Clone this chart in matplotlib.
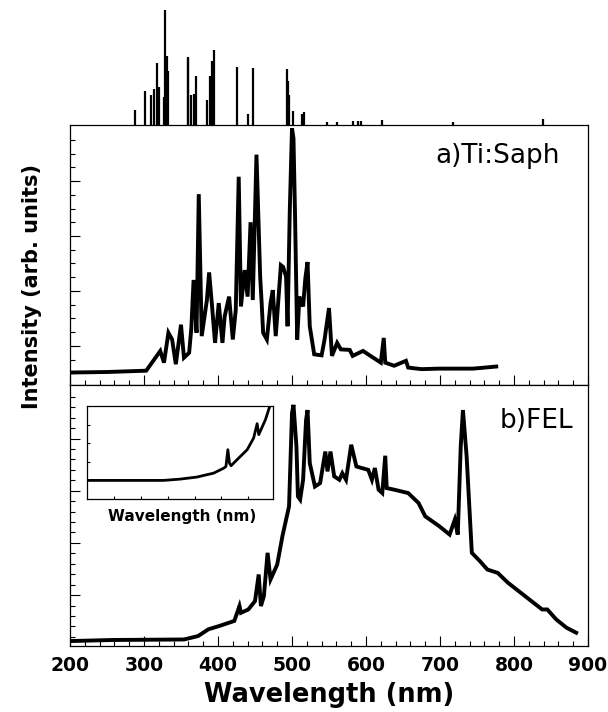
import numpy as np
import matplotlib.pyplot as plt
from matplotlib.ticker import FixedLocator, MultipleLocator, NullFormatter

plt.rcParams["font.family"] = "DejaVu Sans"

# line spectrum drawn above panel a (relative heights, tallest = 100)
line_nm = [288, 302, 310, 313, 317, 320, 327, 329, 331, 333,
           359, 360, 363, 368, 370, 385, 389, 392, 394, 426,
           440, 447, 493, 495, 496, 501, 513, 516, 547, 561,
           583, 589, 593, 621, 717, 839]
line_int = [13.3, 29.9, 26.0, 31.1, 54.1, 33.4, 24.6, 100, 60.1, 47.3,
            59.5, 58.6, 26.0, 26.9, 42.9, 21.6, 42.9, 55.6, 65.1, 50.3,
            9.8, 49.7, 48.8, 37.9, 26.0, 11.8, 9.8, 11.2, 3.0, 3.0,
            3.6, 3.6, 3.6, 4.4, 2.4, 5.3]

# a) Ti:Saph spectrum
tisaph_nm = [201, 250, 303, 306, 322, 327, 333, 338, 343, 350, 354, 361,
             364, 367, 371, 374, 378, 385, 388, 392, 396, 401, 406, 409,
             415, 420, 424, 428, 431, 436, 440, 444, 447, 452, 457, 459,
             461, 466, 471, 474, 478, 485, 488, 492, 494, 497, 500, 502,
             504, 507, 510, 515, 518, 521, 524, 530, 540, 544, 550, 554,
             561, 566, 578, 582, 596, 606, 620, 624, 626, 638, 654, 657,
             675, 699, 745, 776]
tisaph_int = [4.8, 5.0, 5.5, 6.7, 13.1, 8.6, 20.1, 17.5, 8.0, 23.2, 10.5, 12.4,
              22.0, 40.4, 20.1, 73.4, 18.8, 32.7, 43.3, 30.2, 16.2, 31.5, 16.2, 26.4,
              34.0, 17.5, 28.9, 80.1, 30.2, 44.2, 34.0, 62.6, 32.7, 88.6, 41.6, 31.5,
              20.1, 17.5, 31.5, 36.5, 18.8, 46.1, 45.4, 41.6, 22.6, 67.0, 98.7, 94.9,
              67.0, 17.5, 34.0, 30.2, 41.0, 47.3, 22.6, 11.8, 11.4, 17.5, 29.6, 11.2,
              16.2, 13.7, 13.5, 11.2, 13.1, 11.2, 8.6, 18.1, 8.6, 7.4, 9.3, 6.7,
              6.1, 6.3, 6.3, 7.1]

# b) FEL spectrum
fel_nm = [201, 257, 354, 373, 387, 401, 422, 429, 431, 441, 450, 455,
          458, 462, 467, 471, 480, 487, 492, 496, 500, 502, 506, 508,
          511, 515, 519, 521, 524, 531, 538, 545, 548, 552, 557, 564,
          568, 573, 580, 587, 594, 603, 608, 612, 617, 622, 626, 628,
          638, 657, 671, 680, 699, 713, 720, 724, 728, 731, 736, 743,
          754, 764, 778, 792, 815, 838, 845, 857, 871, 884]
fel_int = [1.9, 2.3, 2.5, 3.8, 6.4, 7.6, 9.6, 15.3, 12.7, 14.0, 17.2, 27.4,
           15.3, 19.1, 35.7, 25.5, 31.2, 42.0, 48.4, 53.5, 89.2, 92.4, 76.4, 57.3,
           56.1, 63.7, 86.6, 90.4, 70.1, 61.1, 62.4, 74.5, 66.9, 74.5, 65.0, 63.7,
           66.2, 63.7, 77.1, 68.8, 68.2, 67.5, 63.7, 68.2, 59.9, 58.6, 72.9, 60.5,
           59.9, 58.6, 54.8, 49.7, 45.9, 42.7, 48.4, 42.7, 76.4, 90.4, 72.6, 35.7,
           32.5, 29.3, 28.0, 24.2, 19.1, 14.0, 14.0, 10.2, 7.0, 5.1]

# inset (unlabelled axis units)
inset_x = [0.0, 2.85, 3.47, 4.09, 4.71, 5.09, 5.17, 5.24, 5.30, 5.36,
           5.58, 5.96, 6.20, 6.33, 6.39, 6.64, 6.82]
inset_y = [0.0, 0.0, 0.07, 0.18, 0.39, 0.66, 0.75, 1.65, 0.93, 0.79,
           1.11, 1.65, 2.28, 3.05, 2.46, 3.27, 4.08]

x_ticks = [200, 300, 400, 500, 600, 700, 800, 900]

W, H = 608, 712
fig = plt.figure(figsize=(W / 100, H / 100), dpi=100, facecolor="white")


def px_axes(x0, y0, x1, y1, **kw):
    # axes from pixel box (left, top, right, bottom)
    return fig.add_axes([x0 / W, 1 - y1 / H, (x1 - x0) / W, (y1 - y0) / H], **kw)


ax_a = px_axes(70, 125, 588, 385)
ax_b = px_axes(70, 385, 588, 646, sharex=ax_a)
ax_l = px_axes(70, 10, 588, 125, sharex=ax_a)

# top line spectrum
ax_l.vlines(line_nm, 0, line_int, color="black", lw=1.6)
ax_l.set_ylim(0, 100)
ax_l.axis("off")

lw_spec = 2.8
ax_a.plot(tisaph_nm, tisaph_int, color="black", lw=lw_spec, solid_joinstyle="miter")
ax_b.plot(fel_nm, fel_int, color="black", lw=lw_spec, solid_joinstyle="miter")

ax_a.set_xlim(200, 900)
ax_a.set_ylim(0, 100)
ax_b.set_ylim(0, 100)

for ax in (ax_a, ax_b):
    for sp in ax.spines.values():
        sp.set_linewidth(0.9)
        sp.set_color("black")
    ax.xaxis.set_major_locator(FixedLocator(x_ticks))
    ax.xaxis.set_minor_locator(MultipleLocator(20))
    ax.tick_params(which="both", direction="in", top=False, right=False,
                   width=0.8, color="black")
    ax.tick_params(which="major", length=7)
    ax.tick_params(which="minor", length=3.5)
    ax.yaxis.set_major_formatter(NullFormatter())

ax_a.yaxis.set_major_locator(FixedLocator(np.arange(15.1, 99, 21.1)))
ax_a.yaxis.set_minor_locator(FixedLocator(np.arange(4.5, 99, 5.28)))
ax_b.yaxis.set_major_locator(FixedLocator(np.arange(19.5, 99, 20)))
ax_b.yaxis.set_minor_locator(FixedLocator(np.arange(3.5, 99, 4)))

ax_a.tick_params(axis="x", labelbottom=False)
ax_b.tick_params(axis="x", pad=7, labelsize=13.5)
for lab in ax_b.get_xticklabels():
    lab.set_fontweight("bold")

ax_a.text(0.946, 0.853, "a)Ti:Saph", transform=ax_a.transAxes,
          ha="right", va="baseline", fontsize=19)
ax_b.text(0.971, 0.834, "b)FEL", transform=ax_b.transAxes,
          ha="right", va="baseline", fontsize=19)

# inset
ax_i = px_axes(87, 406, 273, 499)
ax_i.plot(inset_x, inset_y, color="black", lw=2.0)
ax_i.set_xlim(0, 6.92)
ax_i.set_ylim(-1, 4)
ax_i.xaxis.set_major_locator(FixedLocator([1, 2, 3, 4, 5, 6]))
ax_i.yaxis.set_major_locator(FixedLocator([0, 1, 2, 3]))
ax_i.tick_params(which="both", direction="in", length=2.5, width=0.8,
                 labelbottom=False, labelleft=False)
for sp in ax_i.spines.values():
    sp.set_linewidth(0.9)
fig.text(182 / W, 1 - 521 / H, "Wavelength (nm)", ha="center", va="baseline",
         fontsize=11, fontweight="bold")

fig.text(32 / W, 1 - 287 / H, "Intensity (arb. units)", rotation=90,
         ha="center", va="center", fontsize=15, fontweight="bold")
fig.text(329 / W, 1 - 702 / H, "Wavelength (nm)", ha="center", va="baseline",
         fontsize=18.5, fontweight="bold")

fig.savefig("out.png", dpi=100, facecolor="white")
